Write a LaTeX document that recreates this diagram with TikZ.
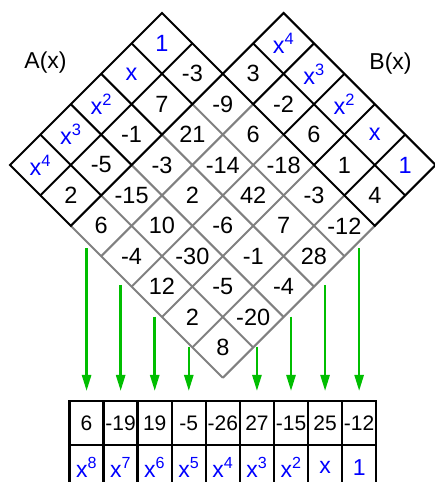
\documentclass[tikz,border=0pt]{standalone}
\usepackage{fontspec}
\setmainfont{Liberation Sans}
\usetikzlibrary{arrows.meta}
\definecolor{myblue}{RGB}{0,0,255}
\definecolor{mygreen}{RGB}{0,190,0}
\definecolor{mygray}{RGB}{128,128,128}
\begin{document}
\begin{tikzpicture}[
  every node/.style={font=\fontsize{23.5}{27}\selectfont, inner sep=0pt},
  blk/.style={draw=black, line width=2pt, line join=miter},
  gry/.style={draw=mygray, line width=2pt},
  bl/.style={text=myblue},
  lbl/.style={font=\fontsize{23}{27}\selectfont},
  arr/.style={draw=mygreen, line width=2.5pt, -{Triangle[length=16pt,width=9pt]}, shorten >=9pt},
  tcell/.style={draw=black, line width=2.5pt, minimum width=34.07pt, minimum height=44pt, anchor=north west},
  tnum/.style={font=\fontsize{21}{25}\selectfont},
  tpow/.style={font=\fontsize{23}{27}\selectfont}
]
\useasboundingbox (0,0) rectangle (435pt,482pt);
\clip (0,0) rectangle (435pt,482pt);

\begin{scope}[shift={(10pt,317pt)}, x={(30.4pt,30.4pt)}, y={(30.4pt,-30.4pt)}]
  % gray product grid
  \foreach \a in {0,...,4} \draw[gry] (\a,2) -- (\a,7);
  \foreach \b in {3,...,7} \draw[gry] (0,\b) -- (5,\b);
  % A strips
  \draw[blk] (0,0) -- (5,0) -- (5,2) -- (0,2) -- cycle;
  \foreach \a in {1,...,4} \draw[blk] (\a,0) -- (\a,2);
  \draw[blk] (0,1) -- (5,1);
  % B strips
  \draw[blk] (5,2) -- (7,2) -- (7,7) -- (5,7) -- cycle;
  \foreach \b in {3,...,6} \draw[blk] (5,\b) -- (7,\b);
  \draw[blk] (6,2) -- (6,7);
  % A labels
  \node[bl] (ax0) at (0.5,0.5) {x\textsuperscript{4}};
  \node[bl] (ax1) at (1.5,0.5) {x\textsuperscript{3}};
  \node[bl] (ax2) at (2.5,0.5) {x\textsuperscript{2}};
  \node[bl] (ax3) at (3.5,0.5) {x};
  \node[bl] (ax4) at (4.5,0.5) {1};
  \node (ac0) at (0.5,1.5) {2};
  \node (ac1) at (1.5,1.5) {-5};
  \node (ac2) at (2.5,1.5) {-1};
  \node (ac3) at (3.5,1.5) {7};
  \node (ac4) at (4.5,1.5) {-3};
  % B labels
  \node (bc2) at (5.5,2.5) {3};
  \node (bc3) at (5.5,3.5) {-2};
  \node (bc4) at (5.5,4.5) {6};
  \node (bc5) at (5.5,5.5) {1};
  \node (bc6) at (5.5,6.5) {4};
  \node[bl] (bx2) at (6.5,2.5) {x\textsuperscript{4}};
  \node[bl] (bx3) at (6.5,3.5) {x\textsuperscript{3}};
  \node[bl] (bx4) at (6.5,4.5) {x\textsuperscript{2}};
  \node[bl] (bx5) at (6.5,5.5) {x};
  \node[bl] (bx6) at (6.5,6.5) {1};
  % products
  \foreach \i/\vals in {0/{6,-4,12,2,8}, 1/{-15,10,-30,-5,-20}, 2/{-3,2,-6,-1,-4}, 3/{21,-14,42,7,28}, 4/{-9,6,-18,-3,-12}} {
    \foreach \v [count=\j from 2] in \vals {
      \node (p\i\j) at (\i+0.5,\j+0.5) {\v};
    }
  }
\end{scope}

\node[lbl] (la) at (45.5pt,419pt) {A(x)};
\node[lbl] (lb) at (390.5pt,418pt) {B(x)};

% table
\foreach \v [count=\k from 0] in {6,-19,19,-5,-26,27,-15,25,-12} {
  \node[tcell, tnum] (t\k) at (68.3pt+34.07pt*\k,82pt) {\v};
}
\foreach \v [count=\k from 0] in {x\textsuperscript{8},x\textsuperscript{7},x\textsuperscript{6},x\textsuperscript{5},x\textsuperscript{4},x\textsuperscript{3},x\textsuperscript{2},x,1} {
  \node[tcell, tpow, bl] (u\k) at (68.3pt+34.07pt*\k,38pt) {\v};
}

% arrows
\foreach \k/\h in {0/151.7,1/115,2/83.3,3/53.3,5/53.3,6/83.3,7/115,8/151.7} {
  \coordinate (s\k) at ([yshift=\h pt]t\k.north);
  \draw[arr] (s\k) -- (t\k);
}
\end{tikzpicture}
\end{document}
